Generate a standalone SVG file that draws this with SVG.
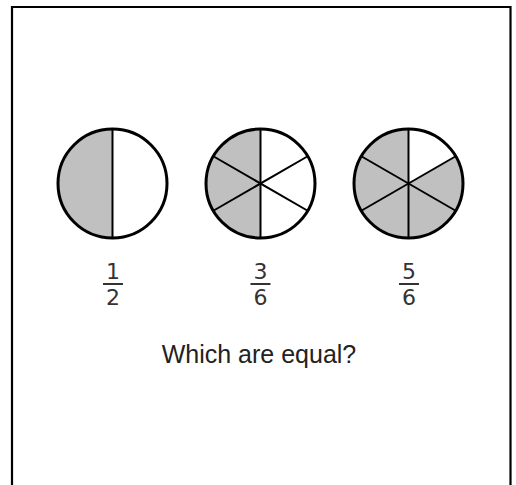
<svg xmlns="http://www.w3.org/2000/svg" width="516" height="485" viewBox="0 0 516 485">
<style>
.rim{fill:none;stroke:#000;stroke-width:3}
.sp{stroke:#000;stroke-width:2;fill:none}
.g{fill:#c0c0c0}
.w{fill:#fff}
.fr{font-family:"DejaVu Sans",Verdana,sans-serif;font-size:22px;fill:#333;text-anchor:middle}
.bar{stroke:#333;stroke-width:2}
.q{font-family:"Liberation Sans",Arial,sans-serif;font-size:25px;fill:#222;text-anchor:middle}
</style>
<rect x="0" y="0" width="516" height="485" fill="#fff"/>
<path d="M12 490 V7 H510.5 V490" fill="none" stroke="#000" stroke-width="2.2"/>

<g id="half">
<circle cx="112.5" cy="183.5" r="54.5" class="w"/>
<path d="M112.5 129 A54.5 54.5 0 0 0 112.5 238 Z" class="g"/>
<line x1="112.5" y1="129" x2="112.5" y2="238" class="sp"/>
<circle cx="112.5" cy="183.5" r="54.5" class="rim"/>
<text x="113" y="278.5" class="fr">1</text>
<line x1="103" y1="284" x2="123" y2="284" class="bar"/>
<text x="113" y="304.5" class="fr">2</text>
</g>

<g id="three-sixths">
<circle cx="260.5" cy="183.5" r="54.5" class="w"/>
<path d="M260.5 129 A54.5 54.5 0 0 0 260.5 238 Z" class="g"/>
<line x1="260.5" y1="129" x2="260.5" y2="238" class="sp"/>
<line x1="213.3" y1="156.25" x2="307.7" y2="210.75" class="sp"/>
<line x1="213.3" y1="210.75" x2="307.7" y2="156.25" class="sp"/>
<circle cx="260.5" cy="183.5" r="54.5" class="rim"/>
<text x="260.5" y="278.5" class="fr">3</text>
<line x1="250.5" y1="284" x2="270.5" y2="284" class="bar"/>
<text x="260.5" y="304.5" class="fr">6</text>
</g>

<g id="five-sixths">
<circle cx="408.5" cy="183.5" r="54.5" class="g"/>
<path d="M408.5 183.5 L408.5 129 A54.5 54.5 0 0 1 455.7 156.25 Z" class="w"/>
<line x1="408.5" y1="129" x2="408.5" y2="238" class="sp"/>
<line x1="361.3" y1="156.25" x2="455.7" y2="210.75" class="sp"/>
<line x1="361.3" y1="210.75" x2="455.7" y2="156.25" class="sp"/>
<circle cx="408.5" cy="183.5" r="54.5" class="rim"/>
<text x="409" y="278.5" class="fr">5</text>
<line x1="399" y1="284" x2="419" y2="284" class="bar"/>
<text x="409" y="304.5" class="fr">6</text>
</g>

<g id="question">
<text x="259" y="363" class="q">Which are equal?</text>
</g>
<g id="connectors"/>
</svg>
